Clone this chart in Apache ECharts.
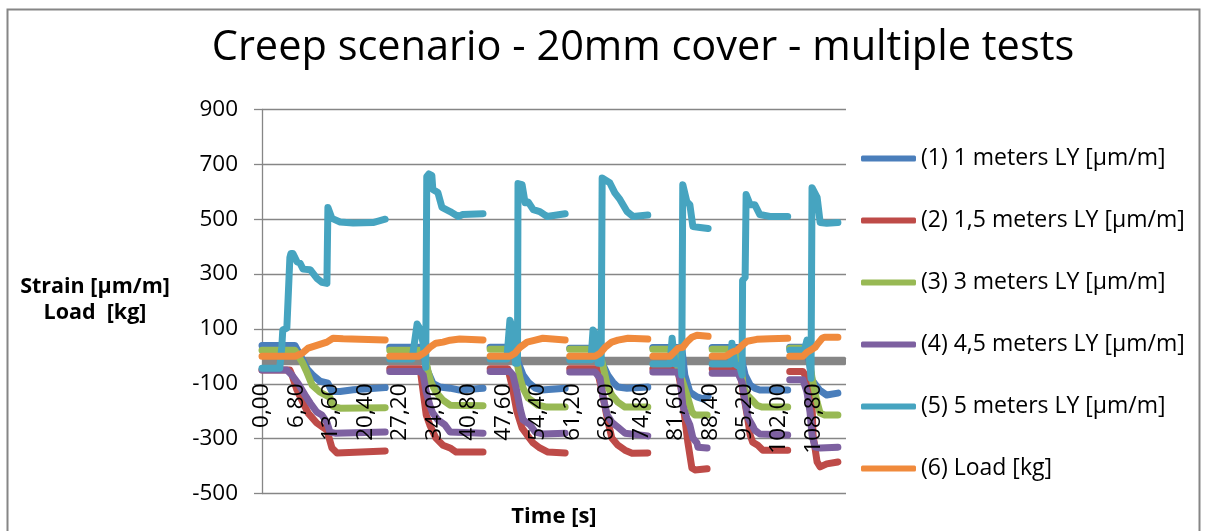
<!DOCTYPE html>
<html>
<head>
<meta charset="utf-8">
<script src="https://cdn.jsdelivr.net/npm/echarts@6/dist/echarts.min.js"></script>
<style>
  html, body { margin: 0; padding: 0; background: #fff; }
  #chart { width: 1206px; height: 531px; }
</style>
</head>
<body>
<div id="chart"></div>
<script>
// Creep test: six load/strain channels over seven consecutive load cycles.
// Each series is a list of [time s, value] points; null separates the cycles.
const seriesNames = [
  '(1) 1 meters LY [µm/m]',
  '(2) 1,5 meters LY [µm/m]',
  '(3) 3 meters LY [µm/m]',
  '(4) 4,5 meters LY [µm/m]',
  '(5) 5 meters LY [µm/m]',
  '(6) Load [kg]'
];

const strain1m = [
  [0,40],[6.5,40],[7.5,5],[8.9,-45],[10.1,-70],[11.4,-90],[13,-98],[13.8,-128],[15.4,-128],[18,-122],[21,-118],[24.3,-114], null,
  [25.2,33],[31.6,33],[32.7,-55],[33.7,-98],[35.1,-112],[37.1,-116],[39,-123],[43.6,-116], null,
  [45,33],[49.9,33],[50.5,-21],[51.5,-68],[52.5,-94],[53.9,-116],[55.2,-123],[59.8,-116], null,
  [60.7,30],[66.3,30],[67.3,-32],[68.2,-68],[69.2,-94],[70.2,-112],[72,-116],[76.1,-112], null,
  [77.1,32],[82.8,32],[83.4,-68],[84.4,-130],[85.8,-148],[87,-155],[88,-145], null,
  [88.8,32],[94.1,32],[95.3,-68],[96.3,-105],[97.2,-116],[98.2,-123],[103.7,-123], null,
  [104.1,33],[107.5,33],[108.5,-87],[110,-123],[111.4,-141],[113.6,-134]
];

const strain1_5m = [
  [0,-50],[5.5,-50],[5.9,-68],[6.9,-123],[9.1,-207],[10.8,-243],[12.8,-269],[13.8,-334],[14.8,-352],[24.3,-345], null,
  [25.2,-45],[31.2,-45],[31.8,-130],[32.4,-214],[33.1,-250],[34.3,-298],[35.7,-324],[37.1,-334],[38.3,-349],[43.6,-349], null,
  [45,-45],[48.5,-45],[49.3,-105],[50.3,-203],[51.3,-261],[52.3,-287],[53.5,-316],[54.8,-334],[56.4,-349],[59.8,-352], null,
  [60.7,-45],[66.1,-45],[67.1,-130],[68.1,-225],[69,-298],[70.2,-324],[71.6,-342],[73,-353],[76.1,-352], null,
  [77.1,-45],[82,-45],[82.8,-130],[83.4,-225],[84,-313],[84.8,-407],[85.4,-414],[87.8,-410], null,
  [88.8,-45],[94.3,-45],[94.9,-130],[95.7,-214],[96.3,-287],[96.8,-313],[97.8,-324],[98.8,-342],[103.7,-342], null,
  [104.1,-55],[106.7,-55],[107.5,-80],[108.5,-178],[108.7,-287],[109.5,-385],[110.1,-403],[111.4,-392],[113.6,-385]
];

const strain3m = [
  [0,22],[6.5,22],[7.9,-20],[8.9,-60],[9.9,-105],[11.4,-130],[13.4,-150],[14,-182],[15.4,-189],[24.3,-187], null,
  [25.2,22],[31.4,22],[32.2,-7],[32.7,-50],[33.3,-94],[34.3,-130],[35.7,-160],[37.1,-178],[43.6,-180], null,
  [45,26],[49.5,26],[50.3,-21],[50.9,-80],[51.5,-116],[52.5,-152],[54.4,-178],[56.2,-185],[59.8,-185], null,
  [60.7,26],[66.1,26],[67.1,-21],[68.1,-105],[69,-141],[70.2,-167],[71.6,-185],[76.1,-185], null,
  [77.1,26],[81.5,26],[82.1,-43],[83,-94],[84,-152],[84.8,-203],[85.4,-214],[87.8,-214], null,
  [88.8,26],[93.3,26],[94.3,-7],[94.9,-105],[95.7,-141],[96.7,-160],[97.6,-178],[98.6,-185],[103.7,-185], null,
  [104.1,30],[107.7,30],[108.5,-80],[109.5,-167],[110.1,-207],[111,-214],[113.6,-214]
];

const strain4_5m = [
  [0,-50],[4.9,-50],[5.9,-68],[7.1,-98],[8.5,-141],[9.5,-170],[10.8,-203],[11.8,-214],[12.8,-240],[13.4,-276],[14.4,-280],[24.3,-276], null,
  [25.2,-55],[31.2,-55],[31.8,-68],[32.4,-130],[33.1,-178],[33.7,-207],[34.7,-232],[36.1,-250],[37.1,-276],[43.6,-280], null,
  [45,-55],[48.9,-55],[49.5,-68],[50.3,-130],[50.9,-189],[51.5,-232],[52.9,-250],[53.9,-276],[55.4,-283],[59.8,-280], null,
  [60.7,-57],[65.7,-57],[66.7,-80],[67.3,-152],[68.1,-214],[69,-240],[70.2,-258],[71.6,-280],[76.1,-290], null,
  [77.1,-57],[81.9,-57],[82.5,-80],[83,-178],[83.8,-225],[84.4,-250],[85,-298],[85.8,-316],[86,-331],[87.8,-334], null,
  [88.8,-62],[93.9,-62],[94.7,-94],[95.3,-167],[95.9,-225],[96.7,-250],[97.2,-269],[98.2,-283],[103.7,-287], null,
  [104.1,-85],[106.7,-85],[107.5,-130],[108.1,-203],[108.5,-287],[109.1,-331],[110.1,-334],[113.6,-331]
];

const strain5m = [
  [0,-43],[3.5,-43],[3.9,33],[4.1,96],[4.9,103],[5.5,360],[5.7,375],[6.1,375],[6.9,345],[7.5,340],[8.1,318],[9.5,316],[10.8,285],[11.8,270],[12.8,266],[13,543],[13.2,550],[13.8,503],[15.4,490],[18,486],[21.9,488],[24.3,500], null,
  [25.2,-10],[29.6,-10],[30,40],[30.6,118],[31.3,96],[31.8,45],[32.3,-40],[32.5,655],[32.9,665],[33.5,660],[33.7,608],[34.7,597],[35.5,543],[37.1,528],[38.7,510],[39.6,517],[43.6,520], null,
  [45,-10],[48.3,-10],[48.9,132],[49.3,110],[49.7,59],[50,-25],[50.4,-25],[50.5,630],[50.7,637],[51.3,626],[51.9,560],[52.5,563],[53.5,535],[54.8,528],[56.2,510],[59.8,520], null,
  [60.7,-12],[64.9,-12],[65.3,96],[65.9,80],[66.3,-25],[66.9,-25],[67.1,650],[67.3,655],[68.6,633],[69.6,596],[70.6,572],[72,528],[73.2,510],[76.1,515], null,
  [77.1,-28],[80.5,-28],[80.9,66],[81.1,30],[81.5,-28],[82.6,-28],[82.8,-68],[83,626],[83.2,620],[83.8,564],[84.4,553],[85,473],[86.4,470],[88,466], null,
  [88.8,-28],[92.5,-28],[92.7,48],[93.3,-28],[94.3,-40],[94.7,-68],[94.8,277],[95.3,288],[95.5,590],[95.7,585],[96.3,553],[97.2,553],[98.2,517],[100.2,510],[103.7,510], null,
  [104.1,22],[107,22],[107.5,59],[107.9,15],[108.3,-80],[108.5,615],[108.7,620],[109.5,580],[110.1,488],[111.4,485],[113.6,488]
];

const loadKg = [
  [0,0],[6.5,0],[7.9,11],[9.1,30],[10.8,40],[12.8,52],[14,66],[16,64],[24.3,60], null,
  [25.2,0],[30.8,0],[32.2,15],[33.1,33],[34.3,48],[35.7,52],[37.1,59],[39,63],[43.6,60], null,
  [45,0],[48.9,0],[49.9,11],[50.9,33],[52.3,52],[53.9,59],[55.4,66],[59.8,60], null,
  [60.7,0],[65.7,0],[66.7,11],[67.7,33],[69,52],[70.2,59],[72.2,66],[76.1,63], null,
  [77.1,0],[80.5,0],[81.1,11],[82.1,30],[83,33],[83.8,52],[84.8,70],[85.8,77],[88,73], null,
  [88.8,0],[91.3,0],[91.9,5],[92.7,15],[93.7,22],[94.7,40],[95.7,55],[97.6,62],[100.2,64],[103.7,66], null,
  [104.1,0],[106.7,0],[107.5,15],[108.5,26],[109.1,33],[109.7,48],[110.5,66],[111,70],[113.6,70]
];

const seriesData = [strain1m, strain1_5m, strain3m, strain4_5m, strain5m, loadKg];
const seriesColors = ['#4A7EBB', '#BE4B48', '#98B954', '#7D60A0', '#46A4C0', '#F08A3C'];

// axis scales
const timeMin = 0, timeMax = 115.2, timeStep = 6.8;
const yMin = -500, yMax = 900, yStep = 200;

const FONT = 'Open Sans';
const GRID = '#868686';
const LINE_WIDTH = 7;

const chart = echarts.init(document.getElementById('chart'), null, { renderer: 'canvas' });

const toPoints = arr => arr.map(p => (p === null ? ['-', '-'] : p));

chart.setOption({
  backgroundColor: '#fff',
  animation: false,
  textStyle: { fontFamily: FONT, color: '#000' },
  grid: { left: 262, right: 360, top: 109.5, bottom: 37.5 },
  xAxis: {
    type: 'value',
    z: 5,
    min: timeMin,
    max: timeMax,
    interval: timeStep,
    axisLine: { show: false },
    axisTick: { show: false },
    splitLine: { show: false },
    axisLabel: {
      rotate: 90,
      margin: -110,
      fontSize: 22.5,
      fontFamily: FONT,
      color: '#000',
      showMaxLabel: false,
      formatter: v => v.toFixed(2).replace('.', ',')
    }
  },
  yAxis: {
    type: 'value',
    min: yMin,
    max: yMax,
    interval: yStep,
    axisLine: { show: true, lineStyle: { color: GRID, width: 1.3 } },
    axisTick: { show: true, length: 8, lineStyle: { color: GRID, width: 1.3 } },
    splitLine: { show: true, lineStyle: { color: GRID, width: 1.3 } },
    axisLabel: { fontSize: 22.5, fontFamily: FONT, color: '#000', margin: 24 }
  },
  legend: {
    orient: 'vertical',
    left: 861,
    top: 147,
    padding: 0,
    icon: 'roundRect',
    itemWidth: 55,
    itemHeight: 6,
    itemGap: 39,
    textStyle: { fontSize: 23, fontFamily: FONT, color: '#000', lineHeight: 22 },
    data: seriesNames
  },
  series: seriesNames.map((name, i) => ({
    name,
    type: 'line',
    data: toPoints(seriesData[i]),
    showSymbol: false,
    symbol: 'none',
    connectNulls: false,
    color: seriesColors[i],
    itemStyle: { color: seriesColors[i] },
    lineStyle: { width: LINE_WIDTH, color: seriesColors[i], cap: 'round', join: 'round' }
  }))
});

// horizontal axis band at zero, title, axis names and frame
const y0 = chart.convertToPixel({ yAxisIndex: 0 }, 0);
const xa = chart.convertToPixel({ xAxisIndex: 0 }, timeMin);
const xb = chart.convertToPixel({ xAxisIndex: 0 }, timeMax);

chart.setOption({
  graphic: [
    {
      type: 'rect', z: 1, silent: true,
      shape: { x: xa, y: y0 + 0.5, width: xb - xa, height: 8.3, r: 1.5 },
      style: { fill: GRID }
    },
    {
      type: 'rect', z: 0, silent: true,
      shape: { x: 7.5, y: 9.5, width: 1192, height: 540 },
      style: { fill: 'none', stroke: GRID, lineWidth: 2 }
    },
    {
      type: 'text', silent: true,
      x: 643, y: 48,
      style: {
        text: 'Creep scenario - 20mm cover - multiple tests',
        font: '41.5px "' + FONT + '"', fill: '#000',
        textAlign: 'center', textVerticalAlign: 'middle'
      }
    },
    {
      type: 'text', silent: true,
      x: 95, y: 300,
      style: {
        text: 'Strain [µm/m]\nLoad  [kg]',
        font: 'bold 21.5px "' + FONT + '"', fill: '#000', lineHeight: 26,
        textAlign: 'center', textVerticalAlign: 'middle'
      }
    },
    {
      type: 'text', silent: true,
      x: (xa + xb) / 2, y: 517,
      style: {
        text: 'Time [s]',
        font: 'bold 22px "' + FONT + '"', fill: '#000',
        textAlign: 'center', textVerticalAlign: 'middle'
      }
    }
  ]
});
</script>
</body>
</html>
